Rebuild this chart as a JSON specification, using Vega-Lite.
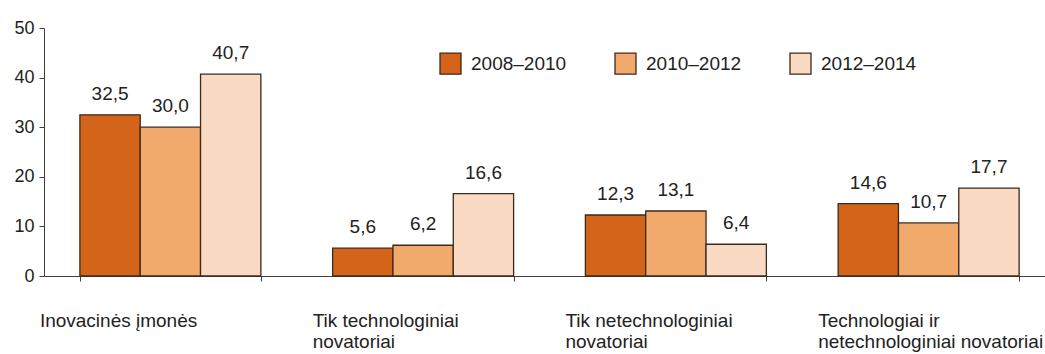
{
  "$schema": "https://vega.github.io/schema/vega-lite/v6.json",
  "autosize": "none",
  "width": 1001,
  "height": 248,
  "padding": {"left": 44, "top": 28, "right": 0, "bottom": 78},
  "background": "white",
  "config": {
    "view": {"stroke": null},
    "font": "Liberation Sans",
    "locale": {"number": {"decimal": ",", "thousands": " ", "grouping": [3], "currency": ["", " €"]}}
  },
  "data": {
    "values": [
      {"category": "Inovacinės įmonės", "period": "2008–2010", "value": 32.5},
      {"category": "Inovacinės įmonės", "period": "2010–2012", "value": 30.0},
      {"category": "Inovacinės įmonės", "period": "2012–2014", "value": 40.7},
      {"category": "Tik technologiniai novatoriai", "period": "2008–2010", "value": 5.6},
      {"category": "Tik technologiniai novatoriai", "period": "2010–2012", "value": 6.2},
      {"category": "Tik technologiniai novatoriai", "period": "2012–2014", "value": 16.6},
      {"category": "Tik netechnologiniai novatoriai", "period": "2008–2010", "value": 12.3},
      {"category": "Tik netechnologiniai novatoriai", "period": "2010–2012", "value": 13.1},
      {"category": "Tik netechnologiniai novatoriai", "period": "2012–2014", "value": 6.4},
      {"category": "Technologiai ir netechnologiniai novatoriai", "period": "2008–2010", "value": 14.6},
      {"category": "Technologiai ir netechnologiniai novatoriai", "period": "2010–2012", "value": 10.7},
      {"category": "Technologiai ir netechnologiniai novatoriai", "period": "2012–2014", "value": 17.7}
    ]
  },
  "encoding": {
    "x": {
      "field": "category",
      "type": "nominal",
      "sort": null,
      "scale": {"paddingInner": 0.284, "paddingOuter": 0.142, "range": [0, 1011]},
      "axis": {
        "title": null,
        "labelAngle": 0,
        "labelAlign": "left",
        "labelBaseline": "top",
        "labelFontSize": 19,
        "labelColor": "#222222",
        "labelLineHeight": 21,
        "labelPadding": 30,
        "labelLimit": 0,
        "labelOffset": {"expr": "datum.value == 'Inovacinės įmonės' ? -131 : -111"},
        "labelExpr": "datum.value == 'Tik technologiniai novatoriai' ? ['Tik technologiniai', 'novatoriai'] : datum.value == 'Tik netechnologiniai novatoriai' ? ['Tik netechnologiniai', 'novatoriai'] : datum.value == 'Technologiai ir netechnologiniai novatoriai' ? ['Technologiai ir', 'netechnologiniai novatoriai'] : datum.label",
        "tickBand": "extent",
        "tickSize": 5,
        "tickColor": "#404040",
        "domainColor": "#404040",
        "grid": false
      }
    },
    "xOffset": {"field": "period", "type": "nominal"},
    "y": {
      "field": "value",
      "type": "quantitative",
      "scale": {"domain": [0, 50], "nice": false},
      "axis": {
        "title": null,
        "values": [0, 10, 20, 30, 40, 50],
        "grid": false,
        "tickSize": 5,
        "labelPadding": 5,
        "labelFontSize": 18,
        "labelColor": "#222222",
        "tickColor": "#404040",
        "domainColor": "#404040"
      }
    }
  },
  "layer": [
    {
      "mark": {"type": "bar", "stroke": "#3b2a1e", "strokeWidth": 1.3},
      "encoding": {
        "color": {
          "field": "period",
          "type": "nominal",
          "scale": {"range": ["#D4641A", "#F2AA6C", "#FADAC2"]},
          "legend": {
            "title": null,
            "orient": "none",
            "direction": "horizontal",
            "legendX": 395,
            "legendY": 24,
            "padding": 0,
            "symbolType": "square",
            "symbolSize": 441,
            "symbolStrokeColor": "#3b2a1e",
            "symbolStrokeWidth": 1.3,
            "labelFontSize": 19,
            "labelColor": "#222222",
            "labelOffset": 9,
            "columnPadding": 45
          }
        }
      }
    },
    {
      "mark": {"type": "text", "baseline": "alphabetic", "dy": -15, "fontSize": 19, "color": "#222222"},
      "encoding": {
        "text": {"field": "value", "type": "quantitative", "format": ".1f"}
      }
    }
  ]
}
